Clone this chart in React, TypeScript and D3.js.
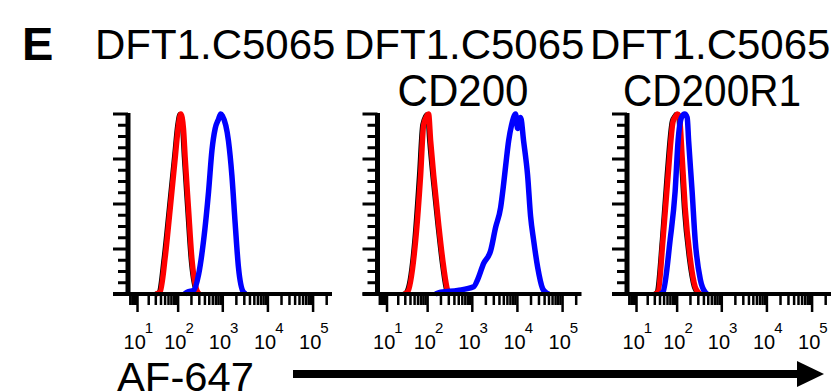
import { useEffect, useRef } from 'react';
import * as d3 from 'd3';

type Pt = [number, number]; // [fluorescence, % of max]

const panelTitles = ['DFT1.C5065', 'DFT1.C5065', 'DFT1.C5065'];
const panelSubtitles = ['', 'CD200', 'CD200R1'];
const decadeTicks = [10, 100, 1000, 10000, 100000];
const decadeLabels = ['1', '2', '3', '4', '5'];
const yTickCount = 16; // 4 majors, 3 minors between each

// panel 1 : no antibody
const panel1Black: Pt[] = [[28, 0], [35, 1], [46, 20], [61, 48], [80, 76], [95, 94], [107, 100], [123, 92], [134, 76], [159, 48], [190, 20], [246, 2], [280, 0]];
const panel1Red: Pt[] = [[30, 0], [38, 1], [50, 20], [66, 48], [86, 76], [102, 94], [115, 100], [132, 92], [144, 76], [171, 48], [204, 20], [264, 2], [300, 0]];
const panel1Blue: Pt[] = [[140, 0], [161, 1], [224, 2], [290, 11], [375, 30], [483, 57], [575, 80], [679, 92], [800, 97], [900, 100], [980, 99], [1337, 85], [1590, 66], [1884, 39], [2222, 15], [2870, 1], [3300, 0]];

// panel 2 : CD200
const panel2Black: Pt[] = [[26, 0], [31, 1], [49, 30], [63, 66], [75, 94], [97, 100], [108, 85], [127, 66], [165, 39], [214, 15], [262, 2], [300, 0]];
const panel2Red: Pt[] = [[28, 0], [34, 1], [53, 30], [69, 66], [81, 94], [105, 100], [117, 85], [137, 66], [177, 39], [230, 15], [282, 2], [320, 0]];
const panel2Blue: Pt[] = [[150, 0], [197, 1], [473, 2], [1071, 4], [1314, 8], [1785, 17], [2550, 24], [3288, 37], [4245, 48], [4945, 61], [5766, 76], [6382, 85], [7430, 94], [9117, 100], [10095, 92], [11775, 98], [13710, 85], [16800, 66], [19590, 43], [22806, 30], [27996, 15], [36088, 3], [42078, 1], [50000, 0]];

// panel 3 : CD200R1
const panel3Black: Pt[] = [[28, 0], [33, 1], [44, 30], [57, 66], [75, 96], [87, 99], [93, 100], [104, 99], [121, 76], [141, 48], [183, 20], [237, 4], [276, 1], [316, 0]];
const panel3Red: Pt[] = [[30, 0], [36, 1], [47, 30], [62, 66], [81, 96], [94, 99], [100, 100], [112, 99], [130, 76], [152, 48], [197, 20], [255, 4], [297, 1], [340, 0]];
const panel3Blue: Pt[] = [[40, 0], [47, 1], [69, 30], [90, 57], [105, 85], [125, 98], [148, 100], [169, 98], [182, 85], [218, 57], [255, 30], [333, 8], [425, 1], [480, 0]];

const panels = [
  { black: panel1Black, red: panel1Red, blue: panel1Blue },
  { black: panel2Black, red: panel2Red, blue: panel2Blue },
  { black: panel3Black, red: panel3Red, blue: panel3Blue },
];

const FONT = '"Liberation Sans", Arial, sans-serif';

export default function App() {
  const svgRef = useRef<SVGSVGElement>(null);
  const width = 831;
  const height = 392;

  useEffect(() => {
    if (!svgRef.current) return;
    const svg = d3.select(svgRef.current);
    svg.selectAll('*').remove();

    const panelStep = 249.5;
    const plotTop = 114;
    const plotBottom = 294;
    const axisLeft = 128;
    const plotWidth = 204;

    const yScale = d3.scaleLinear().domain([0, 100]).range([plotBottom, plotTop]);

    // panel letter
    svg.append('text')
      .attr('x', 22).attr('y', 60)
      .style('font-family', FONT).style('font-size', '47px').style('font-weight', 'bold')
      .text('E');

    const titleX = [95, 344, 590];
    panels.forEach((p, i) => {
      const x0 = axisLeft + i * panelStep;
      const xScale = d3.scaleSymlog().constant(3)
        .domain([5, 262144])
        .range([x0, x0 + plotWidth]);

      const g = svg.append('g');

      // titles
      g.append('text')
        .attr('x', titleX[i]).attr('y', 59)
        .style('font-family', FONT).style('font-size', '42px')
        .text(panelTitles[i]);
      if (panelSubtitles[i]) {
        g.append('text')
          .attr('x', i === 1 ? 463 : 712).attr('y', 106)
          .attr('text-anchor', 'middle')
          .attr('textLength', i === 1 ? 131 : 178).attr('lengthAdjust', 'spacingAndGlyphs')
          .style('font-family', FONT).style('font-size', '45px')
          .text(panelSubtitles[i]);
      }

      // histograms
      const line = d3.line<Pt>()
        .x(d => xScale(d[0]))
        .y(d => yScale(d[1]))
        .curve(d3.curveMonotoneX);

      const series: [Pt[], string, number][] = [
        [p.black, '#000000', 4],
        [p.red, '#ff0000', 5.5],
        [p.blue, '#0000ff', 5.5],
      ];
      series.forEach(([data, color, w]) => {
        g.append('path')
          .datum(data)
          .attr('fill', 'none')
          .attr('stroke', color)
          .attr('stroke-width', w)
          .attr('stroke-linejoin', 'round')
          .attr('d', line);
      });

      // y axis
      const yTicks = d3.range(yTickCount + 1).map(k => (k * 100) / yTickCount);
      g.selectAll('.ytick')
        .data(yTicks)
        .enter().append('line')
        .attr('x1', (d, k) => (k % 4 === 0 ? x0 - 15 : x0 - 10))
        .attr('x2', x0)
        .attr('y1', d => yScale(d))
        .attr('y2', d => yScale(d))
        .attr('stroke', '#000')
        .attr('stroke-width', 3);
      g.append('line')
        .attr('x1', x0).attr('x2', x0)
        .attr('y1', plotTop - 1).attr('y2', plotBottom + 2)
        .attr('stroke', '#000').attr('stroke-width', 5);

      // x axis
      g.append('line')
        .attr('x1', x0 - 15).attr('x2', x0 + plotWidth)
        .attr('y1', plotBottom).attr('y2', plotBottom)
        .attr('stroke', '#000').attr('stroke-width', 4);

      const minor: number[] = [6, 7, 8, 9];
      decadeTicks.forEach(d => {
        for (let m = 2; m <= 9; m++) {
          if (d * m <= 262144) minor.push(d * m);
        }
      });
      g.selectAll('.xminor')
        .data(minor)
        .enter().append('line')
        .attr('x1', d => xScale(d)).attr('x2', d => xScale(d))
        .attr('y1', plotBottom).attr('y2', plotBottom + 11)
        .attr('stroke', '#000').attr('stroke-width', 2.5);
      g.selectAll('.xmajor')
        .data(decadeTicks)
        .enter().append('line')
        .attr('x1', d => xScale(d)).attr('x2', d => xScale(d))
        .attr('y1', plotBottom).attr('y2', plotBottom + 18)
        .attr('stroke', '#000').attr('stroke-width', 2.5);

      // tick labels 10^n, one text each with a raised exponent
      decadeTicks.forEach((d, k) => {
        const tx = xScale(d);
        const t = g.append('text')
          .attr('x', tx - 14).attr('y', 349)
          .style('font-family', FONT).style('font-size', '20px');
        t.append('tspan').text('10');
        t.append('tspan')
          .attr('dx', -1).attr('dy', -16)
          .style('font-size', '15px')
          .text(decadeLabels[k]);
      });
    });

    // x axis title and arrow
    svg.append('text')
      .attr('x', 117).attr('y', 391)
      .attr('textLength', 137).attr('lengthAdjust', 'spacingAndGlyphs')
      .style('font-family', FONT).style('font-size', '40px')
      .text('AF-647');
    svg.append('line')
      .attr('x1', 293).attr('x2', 800)
      .attr('y1', 374).attr('y2', 374)
      .attr('stroke', '#000').attr('stroke-width', 8);
    svg.append('path')
      .attr('d', 'M797,361 L824,374 L797,387 Z')
      .attr('fill', '#000');
  }, []);

  return (
    <svg
      ref={svgRef}
      width={width}
      height={height}
      style={{ position: 'absolute', left: 0, top: 0, background: '#fff' }}
    />
  );
}
